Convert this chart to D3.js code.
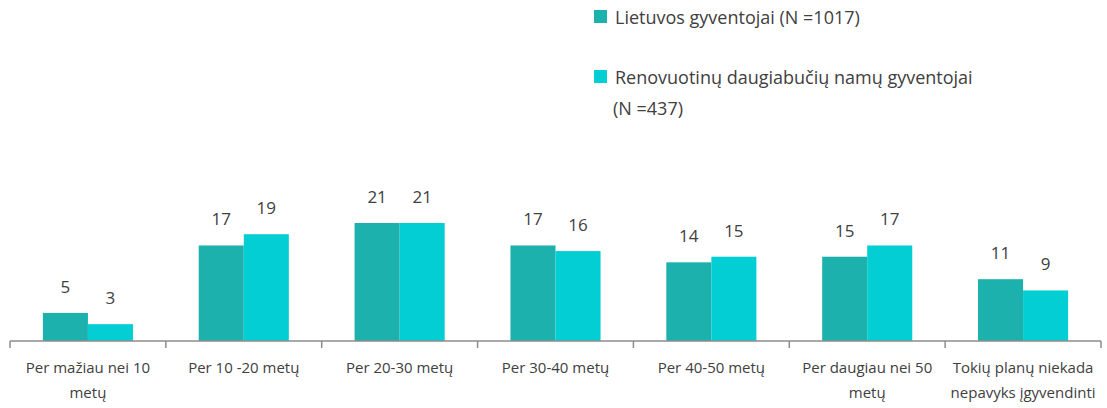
<!DOCTYPE html>
<html>
<head>
<meta charset="utf-8">
<script src="https://cdn.jsdelivr.net/npm/d3@7"></script>
<style>
  body { margin: 0; background: #fff; }
  text { font-family: "Open Sans", sans-serif; fill: #404040; }
</style>
</head>
<body>
<div id="chart"></div>
<script>
// duomenys
const categories = [
  ["Per mažiau nei 10", "metų"],
  ["Per 10 -20 metų"],
  ["Per 20-30 metų"],
  ["Per 30-40 metų"],
  ["Per 40-50 metų"],
  ["Per daugiau nei 50", "metų"],
  ["Tokių planų niekada", "nepavyks įgyvendinti"]
];
const lietuvos = [5, 17, 21, 17, 14, 15, 11];
const renovuotinu = [3, 19, 21, 16, 15, 17, 9];
const seriesNames = [
  ["Lietuvos gyventojai (N =1017)"],
  ["Renovuotinų daugiabučių namų gyventojai", "(N =437)"]
];
const colors = ["#1DB1AD", "#03CED3"];

const width = 1107, height = 408;
const svg = d3.select("#chart").append("svg")
  .attr("width", width)
  .attr("height", height);

const x = d3.scaleBand()
  .domain(d3.range(categories.length))
  .range([10, 1101])
  .paddingInner(0)
  .paddingOuter(0);

const xInner = d3.scaleBand()
  .domain([0, 1])
  .range([0, x.bandwidth()])
  .paddingOuter(0.73)
  .paddingInner(0);

const y = d3.scaleLinear()
  .domain([0, 21])
  .range([341, 223]);

const data = [lietuvos, renovuotinu];

// stulpeliai
const groups = svg.append("g")
  .selectAll("g")
  .data(categories)
  .join("g")
  .attr("transform", (d, i) => `translate(${x(i)},0)`);

groups.selectAll("rect")
  .data((d, i) => data.map((s, k) => ({k, v: s[i]})))
  .join("rect")
  .attr("x", d => xInner(d.k))
  .attr("width", xInner.bandwidth())
  .attr("y", d => y(d.v))
  .attr("height", d => y(0) - y(d.v))
  .attr("fill", d => colors[d.k]);

groups.selectAll("text.val")
  .data((d, i) => data.map((s, k) => ({k, v: s[i]})))
  .join("text")
  .attr("class", "val")
  .attr("x", d => xInner(d.k) + xInner.bandwidth() / 2)
  .attr("y", d => y(d.v) - 20)
  .attr("text-anchor", "middle")
  .style("font-size", "17px")
  .text(d => d.v);

// ašis
const axis = svg.append("g");
axis.append("line")
  .attr("x1", x.range()[0]).attr("x2", x.range()[1])
  .attr("y1", y(0)).attr("y2", y(0))
  .attr("stroke", "#8c8c8c").attr("stroke-width", 1.5);

axis.selectAll("line.tick")
  .data(d3.range(categories.length + 1))
  .join("line")
  .attr("class", "tick")
  .attr("x1", i => i < categories.length ? x(i) : x.range()[1])
  .attr("x2", i => i < categories.length ? x(i) : x.range()[1])
  .attr("y1", y(0)).attr("y2", y(0) + 7)
  .attr("stroke", "#8c8c8c").attr("stroke-width", 1.5);

axis.selectAll("text")
  .data(categories)
  .join("text")
  .attr("x", (d, i) => x(i) + x.bandwidth() / 2)
  .attr("y", 373)
  .attr("text-anchor", "middle")
  .style("font-size", "15px")
  .selectAll("tspan")
  .data(d => d)
  .join("tspan")
  .attr("x", function() { return d3.select(this.parentNode).attr("x"); })
  .attr("dy", (d, j) => j === 0 ? 0 : 25)
  .text(d => d);

// legenda
const legend = svg.append("g");
const legendY = [10, 70];
seriesNames.forEach((lines, k) => {
  legend.append("rect")
    .attr("x", 594).attr("y", legendY[k])
    .attr("width", 13).attr("height", 13)
    .attr("fill", colors[k]);
  const t = legend.append("text")
    .attr("x", 615).attr("y", legendY[k] + 14)
    .style("font-size", "18px");
  lines.forEach((l, j) => {
    t.append("tspan").attr("x", j === 0 ? 615 : 613)
      .attr("dy", j === 0 ? 0 : 31).text(l);
  });
});
</script>
</body>
</html>
